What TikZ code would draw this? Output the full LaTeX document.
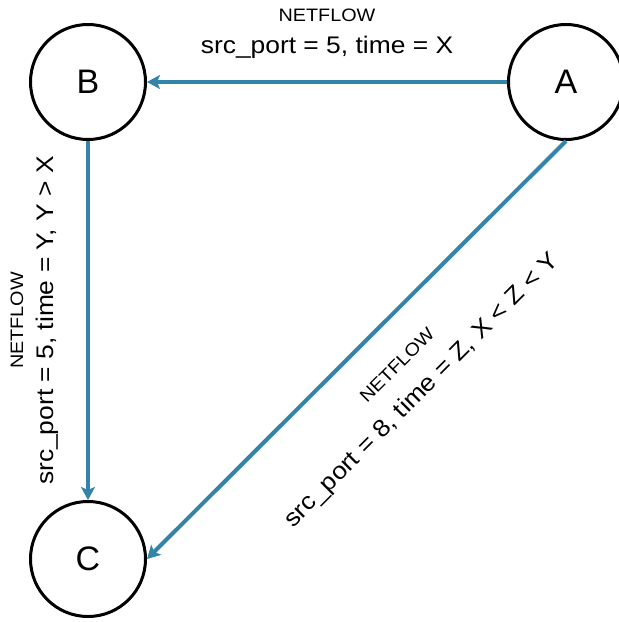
\documentclass[tikz,border=0pt]{standalone}
\usepackage{fontspec}
\setmainfont{Liberation Sans}
\newfontfamily\flowfont[FakeStretch=1.1]{Liberation Sans}
\usepackage{xcolor}
\usepackage{tikz}
\usetikzlibrary{arrows.meta}
\definecolor{flowblue}{RGB}{52,131,168}

\tikzset{
  host/.style={circle, draw=black, line width=3pt, minimum size=115pt, inner sep=0pt,
    font=\fontsize{34}{34}\selectfont},
  flow/.style={draw=flowblue, line width=4pt, -{Stealth[length=13pt,width=14pt,inset=3pt]}},
  flowlabel/.style={align=center, inner sep=0pt, font=\flowfont\fontsize{24}{32}\selectfont}
}
\newcommand{\netflow}[2][0pt]{{\fontsize{18}{18}\selectfont NETFLOW}\\[#1]#2}

\begin{document}
\begin{tikzpicture}[x=1pt,y=-1pt]
\useasboundingbox (0,0) rectangle (619,622);
% hosts %
\node[host] (B) at (88,82) {B};
\node[host] (A) at (566,82) {A};
\node[host] (C) at (88,559) {C};
% flows %
\draw[flow] (A) -- node[flowlabel, midway, above=22pt] {\netflow{src\_port = 5, time = X}} (B);
\draw[flow] (B) -- node[flowlabel, midway, anchor=south, rotate=90, inner ysep=28pt]
  {\netflow[-2pt]{src\_port = 5, time = Y, Y > X}} (C);
\draw[flow] (A.south) -- node[flowlabel, pos=0.47, anchor=north, rotate=45, inner ysep=31pt]
  {\netflow[4pt]{src\_port = 8, time = Z, X < Z < Y}} (C.east);
\end{tikzpicture}
\end{document}
